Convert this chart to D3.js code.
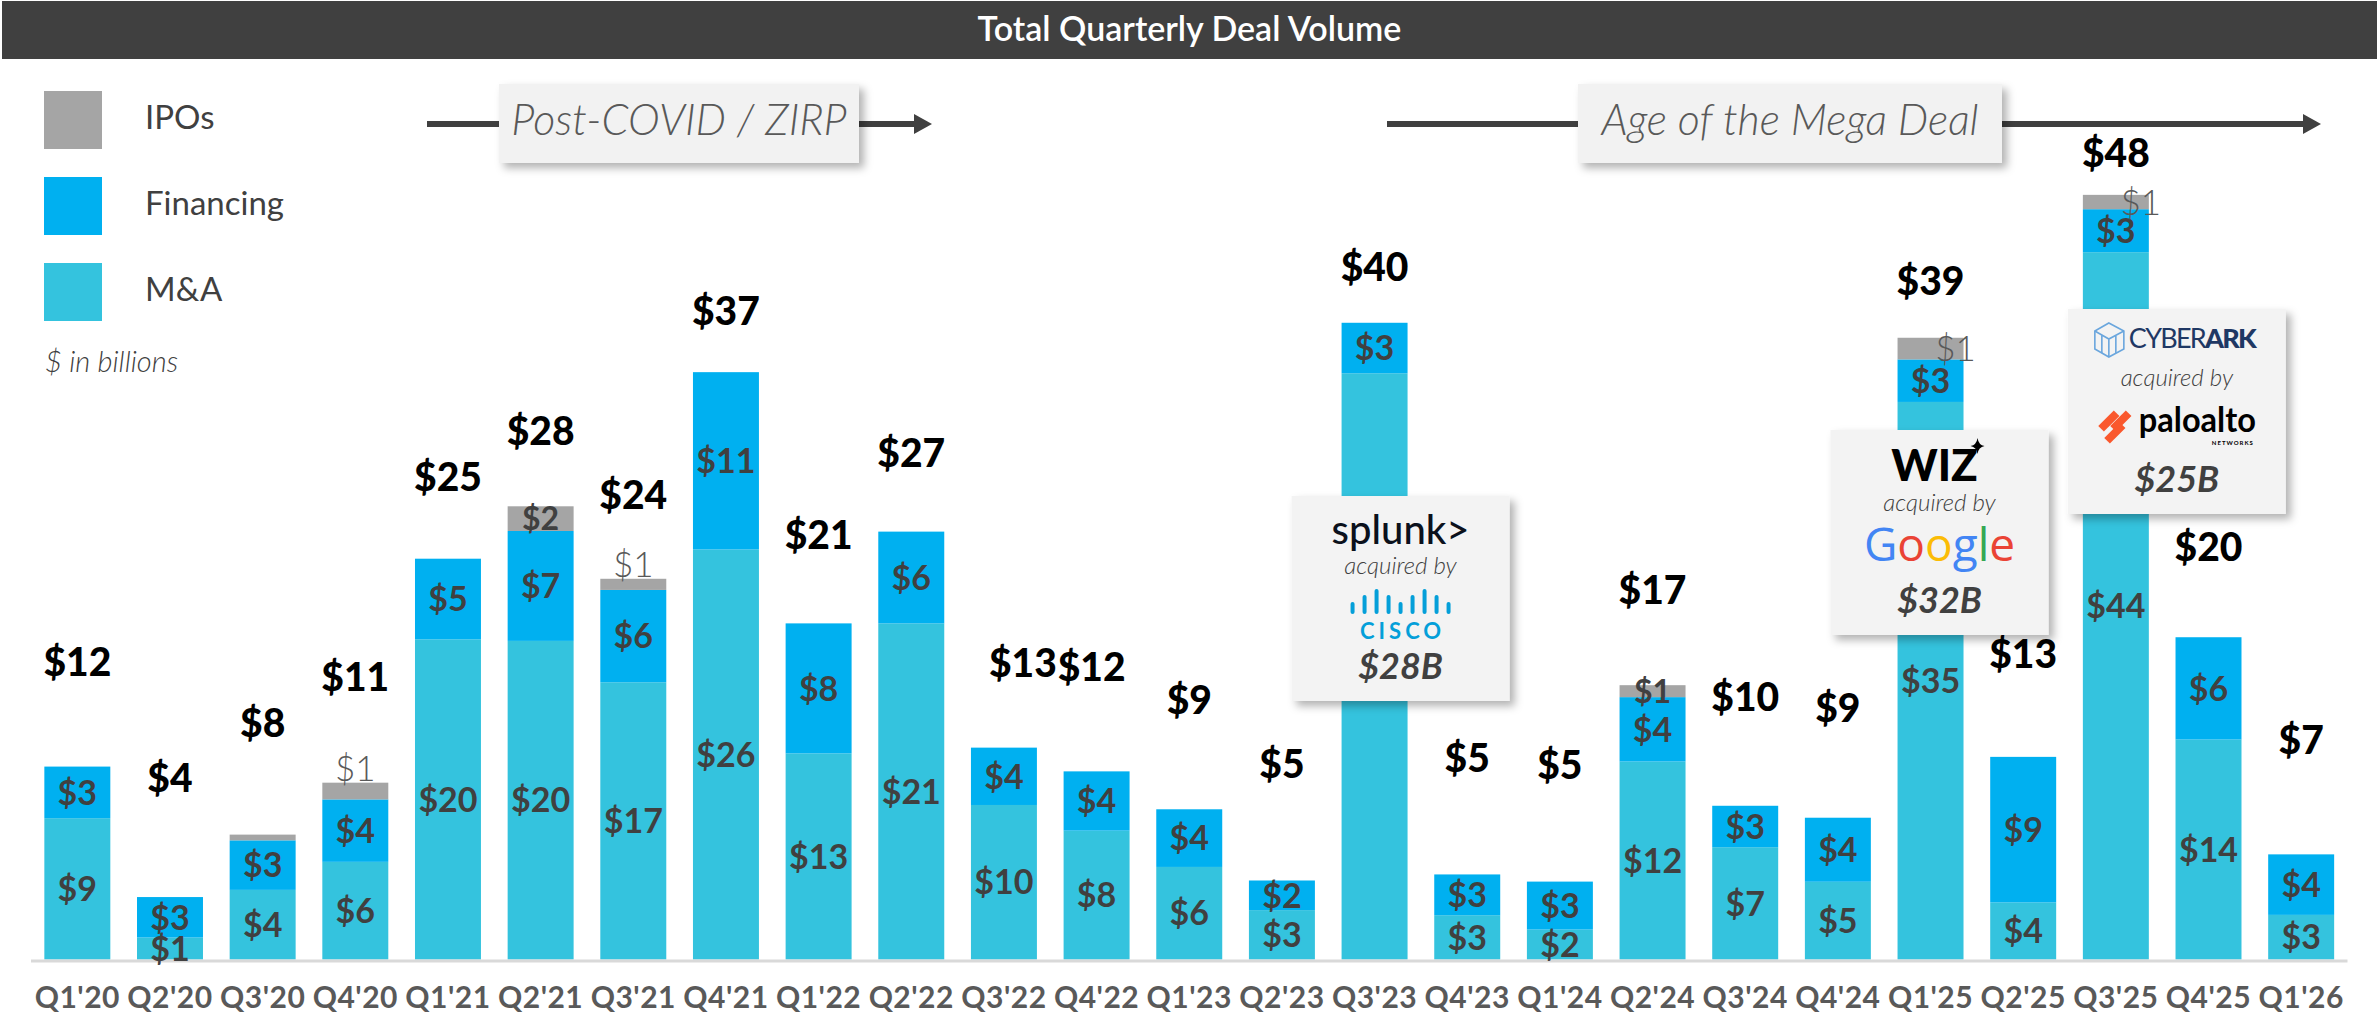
<!DOCTYPE html>
<html>
<head>
<meta charset="utf-8">
<script src="https://cdn.jsdelivr.net/npm/d3@7"></script>
<style>
  body { margin: 0; background: #fff; }
  svg { display: block; font-family: Lato, "Open Sans", sans-serif; }
</style>
</head>
<body>
<div id="chart"></div>
<script>
//canvas size
const width = 2379;
const height = 1017;

//quarters on the x axis
const quarters = ["Q1'20","Q2'20","Q3'20","Q4'20","Q1'21","Q2'21","Q3'21","Q4'21","Q1'22","Q2'22",
  "Q3'22","Q4'22","Q1'23","Q2'23","Q3'23","Q4'23","Q1'24","Q2'24","Q3'24","Q4'24",
  "Q1'25","Q2'25","Q3'25","Q4'25","Q1'26"];

//$ in billions
const mna = [8.87, 1.38, 4.37, 6.13, 20.1, 20.0, 17.4, 25.74, 12.94, 21.1,
  9.7, 8.09, 5.81, 3.1, 36.8, 2.78, 1.88, 12.43, 7.05, 4.88,
  35.0, 3.58, 44.4, 13.81, 2.8];
const financing = [3.24, 2.54, 3.11, 3.92, 5.06, 6.9, 5.8, 11.13, 8.16, 5.76,
  3.6, 3.72, 3.62, 1.86, 3.17, 2.56, 3.01, 4.04, 2.6, 4.02,
  2.67, 9.14, 2.7, 6.42, 3.8];
const ipos = [0, 0, 0.36, 1.05, 0, 1.55, 0.7, 0, 0, 0,
  0, 0, 0, 0, 0, 0, 0, 0.75, 0, 0,
  1.36, 0, 0.9, 0, 0];

//where the IPO label sits (they were moved by hand in the deck)
const ipoLabelMode = [null, null, null, "above", null, "inside", "above", null, null, null,
  null, null, null, null, null, null, null, "inside", null, null,
  "right", null, "right", null, null];

//legend entries
const legendItems = [
  {label: "IPOs", color: "#a5a5a5"},
  {label: "Financing", color: "#00b0f0"},
  {label: "M&A", color: "#34c3de"}
];

//era arrows
const eras = [
  {label: "Post-COVID / ZIRP", x1: 427, x2: 932, boxX: 499, boxW: 360},
  {label: "Age of the Mega Deal", x1: 1387, x2: 2321, boxX: 1578, boxW: 424}
];

//mega deal callouts
const deals = [
  {quarter: "Q3'23", price: "$28B", logo: "splunk", top: 496, dx: 26},
  {quarter: "Q1'25", price: "$32B", logo: "wiz", top: 430, dx: 9},
  {quarter: "Q3'25", price: "$25B", logo: "cyberark", top: 309, dx: 61}
];

const colors = {mna: "#34c3de", financing: "#00b0f0", ipos: "#a5a5a5"};

const table = quarters.map((q, i) => ({
  quarter: q, mna: mna[i], financing: financing[i], ipos: ipos[i],
  total: mna[i] + financing[i] + ipos[i], ipoMode: ipoLabelMode[i]
}));

const svg = d3.select("#chart")
  .append("svg")
  .attr("width", width)
  .attr("height", height);

const defs = svg.append("defs");
defs.append("filter")
  .attr("id", "shadow")
  .attr("x", "-10%").attr("y", "-10%")
  .attr("width", "130%").attr("height", "130%")
  .append("feDropShadow")
  .attr("dx", 5).attr("dy", 5)
  .attr("stdDeviation", 4)
  .attr("flood-color", "#000")
  .attr("flood-opacity", 0.3);

// --------------------
// TITLE BAR
// --------------------
svg.append("rect")
  .attr("x", 2).attr("y", 1)
  .attr("width", width - 4).attr("height", 58)
  .attr("fill", "#404040");
svg.append("text")
  .attr("x", width / 2).attr("y", 41)
  .attr("text-anchor", "middle")
  .attr("fill", "#fff")
  .attr("font-size", 34)
  .attr("font-weight", 600)
  .text("Total Quarterly Deal Volume");

// --------------------
// SCALES
// --------------------
const x = d3.scaleBand()
  .domain(quarters)
  .range([31, 2347.5])
  .paddingInner(0.288)
  .paddingOuter(0.144);

const y = d3.scaleLinear()
  .domain([0, 50])
  .range([959.5, 163]);

//total labels float higher above short bars than tall ones
const labelY = d3.scaleLinear()
  .domain([0, 50])
  .range([848, 139]);

//hand nudges on the two crowded totals
const totalNudge = {"Q3'22": [19, 18], "Q4'22": [-5, 0]};

//callout boxes size
const boxW = 218, boxH = 205;
const boxLeft = d => x(d.quarter) + x.bandwidth() / 2 + d.dx - boxW / 2;

//is a point hidden behind one of the callouts
function behindBox(px, py) {
  return deals.some(d => px > boxLeft(d) && px < boxLeft(d) + boxW && py > d.top && py < d.top + boxH);
}

// --------------------
// BARS
// --------------------
const stack = d3.stack().keys(["mna", "financing", "ipos"]);
const series = stack(table);

const layers = svg.append("g")
  .selectAll("g")
  .data(series)
  .enter()
  .append("g")
  .attr("fill", d => colors[d.key]);

layers.selectAll("rect")
  .data(d => d)
  .enter()
  .append("rect")
  .attr("x", d => x(d.data.quarter))
  .attr("y", d => y(d[1]))
  .attr("width", x.bandwidth())
  .attr("height", d => y(d[0]) - y(d[1]));

//axis line
svg.append("line")
  .attr("x1", x.range()[0]).attr("x2", x.range()[1])
  .attr("y1", 961).attr("y2", 961)
  .attr("stroke", "#d9d9d9")
  .attr("stroke-width", 3);

// segment labels (M&A and Financing)
["mna", "financing"].forEach(key => {
  const s = series.find(d => d.key === key);
  svg.append("g")
    .selectAll("text")
    .data(s.filter(d => Math.round(d.data[key]) >= 1 &&
      !behindBox(x(d.data.quarter) + x.bandwidth() / 2, (y(d[0]) + y(d[1])) / 2)))
    .enter()
    .append("text")
    .attr("x", d => x(d.data.quarter) + x.bandwidth() / 2)
    .attr("y", d => (y(d[0]) + y(d[1])) / 2)
    .attr("dy", "0.36em")
    .attr("text-anchor", "middle")
    .attr("font-size", 34)
    .attr("font-weight", 700)
    .attr("fill", "#404040")
    .text(d => "$" + Math.round(d.data[key]));
});

// IPO labels
const ipoSeries = series.find(d => d.key === "ipos");
svg.append("g")
  .selectAll("text")
  .data(ipoSeries.filter(d => d.data.ipoMode))
  .enter()
  .append("text")
  .attr("x", d => x(d.data.quarter) + x.bandwidth() / 2 + (d.data.ipoMode === "right" ? 25 : 0))
  .attr("y", d => d.data.ipoMode === "above" ? y(d[1]) - 2 : (y(d[0]) + y(d[1])) / 2)
  .attr("dy", d => d.data.ipoMode === "above" ? "0" : "0.36em")
  .attr("text-anchor", "middle")
  .attr("font-size", d => d.data.ipoMode === "inside" ? 32 : 35)
  .attr("font-weight", d => d.data.ipoMode === "inside" ? 700 : 300)
  .attr("fill", d => d.data.ipoMode === "inside" ? "#404040" : "#595959")
  .text(d => "$" + Math.round(d.data.ipos));

// totals
svg.append("g")
  .selectAll("text")
  .data(table)
  .enter()
  .append("text")
  .attr("x", d => x(d.quarter) + x.bandwidth() / 2 + (totalNudge[d.quarter] ? totalNudge[d.quarter][0] : 0))
  .attr("y", d => labelY(d.total) + (totalNudge[d.quarter] ? totalNudge[d.quarter][1] : 0))
  .attr("text-anchor", "middle")
  .attr("font-size", 39)
  .attr("font-weight", 900)
  .attr("fill", "#000")
  .text(d => "$" + Math.round(d.total));

// x axis
svg.append("g")
  .attr("transform", "translate(0,961)")
  .call(d3.axisBottom(x).tickSize(0).tickPadding(26))
  .call(g => g.select(".domain").remove())
  .selectAll("text")
  .attr("font-family", "Lato, sans-serif")
  .attr("font-size", 30)
  .attr("font-weight", 700)
  .attr("letter-spacing", 0.5)
  .attr("fill", "#595959");

// --------------------
// LEGEND
// --------------------
const legend = svg.append("g").attr("transform", "translate(44,91)");
legend.selectAll("rect")
  .data(legendItems)
  .enter()
  .append("rect")
  .attr("x", 0)
  .attr("y", (d, i) => i * 86)
  .attr("width", 58)
  .attr("height", 58)
  .attr("fill", d => d.color);
legend.selectAll("text")
  .data(legendItems)
  .enter()
  .append("text")
  .attr("x", 101)
  .attr("y", (d, i) => i * 86 + 26)
  .attr("dy", "0.35em")
  .attr("font-size", 33)
  .attr("fill", "#404040")
  .text(d => d.label);
svg.append("text")
  .attr("x", 45).attr("y", 372)
  .attr("font-size", 29)
  .attr("font-style", "italic")
  .attr("font-weight", 300)
  .attr("fill", "#404040")
  .text("$ in billions");

// --------------------
// ERA ARROWS
// --------------------
eras.forEach(e => {
  const g = svg.append("g");
  g.append("line")
    .attr("x1", e.x1).attr("x2", e.x2 - 16)
    .attr("y1", 124).attr("y2", 124)
    .attr("stroke", "#404040")
    .attr("stroke-width", 6);
  g.append("path")
    .attr("d", `M${e.x2},124 L${e.x2 - 18},114 L${e.x2 - 18},134 Z`)
    .attr("fill", "#404040");
  g.append("rect")
    .attr("x", e.boxX).attr("y", 84)
    .attr("width", e.boxW).attr("height", 79)
    .attr("fill", "#f2f2f2")
    .attr("filter", "url(#shadow)");
  g.append("text")
    .attr("x", e.boxX + e.boxW / 2).attr("y", 135)
    .attr("text-anchor", "middle")
    .attr("font-size", 43)
    .attr("font-style", "italic")
    .attr("font-weight", 300)
    .attr("fill", "#595959")
    .text(e.label);
});

// --------------------
// DEAL CALLOUTS
// --------------------
function acquiredBy(g, cx, yy) {
  g.append("text")
    .attr("x", cx).attr("y", yy)
    .attr("text-anchor", "middle")
    .attr("font-size", 24)
    .attr("font-style", "italic")
    .attr("font-weight", 300)
    .attr("fill", "#404040")
    .text("acquired by");
}

function priceTag(g, cx, text) {
  g.append("text")
    .attr("x", cx).attr("y", 183)
    .attr("text-anchor", "middle")
    .attr("font-size", 36)
    .attr("font-style", "italic")
    .attr("font-weight", 700)
    .attr("fill", "#404040")
    .text(text);
}

function drawSplunk(g) {
  const cx = boxW / 2;
  g.append("text")
    .attr("x", cx).attr("y", 48)
    .attr("text-anchor", "middle")
    .attr("font-size", 40)
    .attr("font-weight", 500)
    .attr("fill", "#0b111c")
    .text("splunk>");
  acquiredBy(g, cx, 78);
  //cisco bridge bars
  const barH = [8, 15, 21, 15, 8, 15, 21, 15, 8];
  g.selectAll(".ciscoBar")
    .data(barH)
    .enter()
    .append("line")
    .attr("class", "ciscoBar")
    .attr("x1", (d, i) => cx - 48 + i * 12)
    .attr("x2", (d, i) => cx - 48 + i * 12)
    .attr("y1", 116)
    .attr("y2", d => 116 - d)
    .attr("stroke", "#049fd9")
    .attr("stroke-width", 4)
    .attr("stroke-linecap", "round");
  g.append("text")
    .attr("x", cx + 2).attr("y", 143)
    .attr("text-anchor", "middle")
    .attr("font-size", 22)
    .attr("font-weight", 700)
    .attr("letter-spacing", 4)
    .attr("fill", "#049fd9")
    .text("CISCO");
}

function drawWiz(g) {
  const cx = boxW / 2;
  g.append("text")
    .attr("x", cx - 5).attr("y", 51)
    .attr("text-anchor", "middle")
    .attr("font-size", 44)
    .attr("font-weight", 900)
    .attr("fill", "#000")
    .text("WIZ");
  //little sparkle
  g.append("path")
    .attr("d", "M147,8 Q148,15 154,16 Q148,17 147,24 Q146,17 140,16 Q146,15 147,8 Z")
    .attr("fill", "#000");
  acquiredBy(g, cx, 81);
  const google = g.append("text")
    .attr("x", cx).attr("y", 131)
    .attr("text-anchor", "middle")
    .attr("font-size", 46)
    .attr("font-weight", 500)
    .attr("font-family", "'Open Sans', Lato, sans-serif");
  [["G", "#4285f4"], ["o", "#ea4335"], ["o", "#fbbc05"], ["g", "#4285f4"], ["l", "#34a853"], ["e", "#ea4335"]]
    .forEach(([c, col]) => google.append("tspan").attr("fill", col).text(c));
}

function drawCyberark(g) {
  //cube outline mark
  const cube = g.append("g")
    .attr("fill", "none")
    .attr("stroke", "#6aa6dd")
    .attr("stroke-width", 1.6);
  cube.append("path").attr("d", "M41,14 L56,22 L56,40 L41,48 L27,40 L27,22 Z");
  cube.append("path").attr("d", "M27,22 L41,30 L56,22 M41,30 L41,48 M34,26 L34,44 M48,26 L48,44");
  const word = g.append("text")
    .attr("x", 61).attr("y", 39)
    .attr("font-size", 27)
    .attr("textLength", 128)
    .attr("fill", "#1f3864");
  word.append("tspan").attr("font-weight", 400).text("CYBER");
  word.append("tspan").attr("font-weight", 900).text("ARK");
  acquiredBy(g, boxW / 2, 77);
  //palo alto stripes
  const palo = g.append("g").attr("fill", "#fa582d");
  [[30, 108], [42, 108], [36, 120]].forEach(([px, py]) => {
    palo.append("rect")
      .attr("x", px).attr("y", py)
      .attr("width", 22).attr("height", 8)
      .attr("transform", `rotate(-45 ${px + 11} ${py + 4})`);
  });
  g.append("text")
    .attr("x", 71).attr("y", 123)
    .attr("font-size", 34)
    .attr("font-weight", 700)
    .attr("textLength", 117)
    .attr("lengthAdjust", "spacingAndGlyphs")
    .attr("fill", "#000")
    .text("paloalto");
  g.append("text")
    .attr("x", 186).attr("y", 136)
    .attr("text-anchor", "end")
    .attr("font-size", 6)
    .attr("font-weight", 700)
    .attr("letter-spacing", 1)
    .attr("fill", "#000")
    .text("NETWORKS");
}

const logos = {splunk: drawSplunk, wiz: drawWiz, cyberark: drawCyberark};

deals.forEach(d => {
  const g = svg.append("g").attr("transform", `translate(${boxLeft(d)},${d.top})`);
  g.append("rect")
    .attr("width", boxW).attr("height", boxH)
    .attr("fill", "#f3f3f3")
    .attr("filter", "url(#shadow)");
  logos[d.logo](g);
  priceTag(g, boxW / 2, d.price);
});
</script>
</body>
</html>
